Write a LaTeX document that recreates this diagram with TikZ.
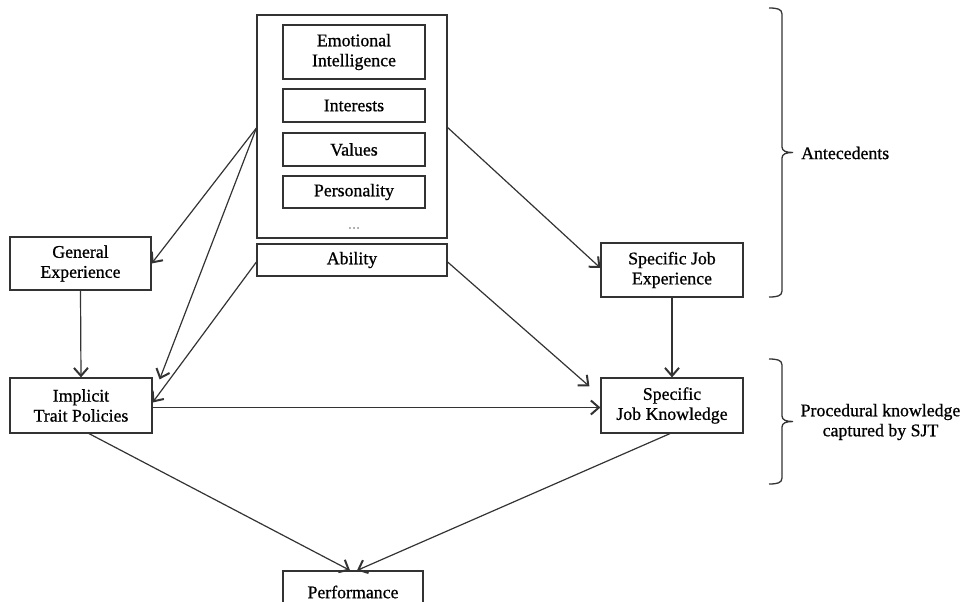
\documentclass[tikz,border=0pt]{standalone}
\usepackage{fontspec}
\setmainfont{Liberation Serif}[FakeBold=0.8]
\usetikzlibrary{arrows.meta,calc}
\definecolor{ln}{HTML}{333333}
\begin{document}
\begin{tikzpicture}[x=1pt,y=-1pt,
  box/.style={draw=ln,line width=1.2pt,inner sep=0pt,align=center,
    font=\fontsize{17.8}{20}\selectfont,text=black},
  lbl/.style={inner sep=0pt,align=center,font=\fontsize{17.8}{20}\selectfont},
  arr/.style={draw=ln,line width=1.2pt,-{Straight Barb[length=8pt,width=14pt,line width=2pt]}},
  brc/.style={draw=ln,line width=1.3pt}]
\useasboundingbox (0,0) rectangle (964,602);
\clip (0,0) rectangle (964,602);

% antecedent cluster
\node[box,minimum width=190pt,minimum height=223pt] (outer) at (352,126.5) {};
\node[box,minimum width=142pt,minimum height=54pt] (ei) at (354,52) {Emotional\\Intelligence};
\node[box,minimum width=142pt,minimum height=33pt] (int) at (354,105.5) {Interests};
\node[box,minimum width=142pt,minimum height=33pt] (val) at (354,149.5) {Values};
\node[box,minimum width=142pt,minimum height=32pt] (pers) at (354,192) {Personality};
\node[lbl,font=\fontsize{12}{14}\selectfont,text=gray] (dots) at (354,228) {\dots};
\node[box,minimum width=190pt,minimum height=32pt] (abil) at (352,260) {Ability};

% other boxes
\node[box,minimum width=141pt,minimum height=53pt] (ge) at (80.5,263.5) {General\\Experience};
\node[box,minimum width=142pt,minimum height=54pt] (sje) at (672,270) {Specific Job\\Experience};
\node[box,minimum width=142pt,minimum height=55pt] (itp) at (81,405.5) {Implicit\\Trait Policies};
\node[box,minimum width=142pt,minimum height=55pt] (sjk) at (672,405.5) {Specific\\Job Knowledge};
\node[box,minimum width=140pt,minimum height=42pt] (perf) at (353,592) {Performance};

% connectors
\draw[arr] ($(outer.west)+(0,1.5)$) -- (ge.east);
\draw[arr] ($(outer.west)+(0,1.5)$) -- ($(itp.north east)+(7,2)$);
\draw[arr] ($(abil.west)+(0,2)$) -- ($(itp.east)+(0,-3)$);
\draw[arr] ($(outer.east)+(0,1)$) -- ($(sje.west)+(0,-2)$);
\draw[arr] ($(abil.east)+(0,2)$) -- ($(sjk.north west)+(-11,9)$);
\draw[arr] (ge.south) -- (itp.north);
\draw[arr] (sje.south) -- (sjk.north);
\draw[arr] ($(itp.east)+(0,2)$) -- ($(sjk.west)+(0,2)$);
\draw[arr] ($(itp.south)+(8,0)$) -- ($(perf.north)+(-3,0)$);
\draw[arr] ($(sjk.south)+(-2,0)$) -- ($(perf.north)+(4,0)$);

% braces
\draw[brc] (769,8) .. controls (777,8) and (782,9) .. (782,14) -- (782,147)
  .. controls (782,151) and (786,152.5) .. (793,152.5)
  .. controls (786,152.5) and (782,154) .. (782,158) -- (782,291)
  .. controls (782,296) and (777,297) .. (769,297);
\draw[brc] (769,359) .. controls (777,359) and (782,360) .. (782,365) -- (782,416)
  .. controls (782,420) and (786,421.5) .. (793,421.5)
  .. controls (786,421.5) and (782,423) .. (782,427) -- (782,478)
  .. controls (782,483) and (777,484) .. (769,484);

\node[lbl,anchor=west] (ante) at (801,153) {Antecedents};
\node[lbl] (proc) at (880.5,422) {Procedural knowledge\\captured by SJT};
\end{tikzpicture}
\end{document}
